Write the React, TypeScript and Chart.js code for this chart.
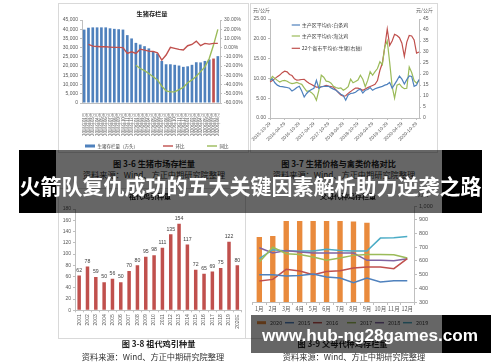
import React, { useEffect, useRef } from "react";
import { Chart, registerables } from "chart.js";

Chart.register(...registerables);

/* ---------- 图3-6 生猪市场存栏量 ---------- */
const inventoryMonths = [
  "2018年01月", "2018年02月", "2018年03月", "2018年04月", "2018年05月", "2018年06月",
  "2018年07月", "2018年08月", "2018年09月", "2018年10月", "2018年11月", "2018年12月",
  "2019年01月", "2019年02月", "2019年03月", "2019年04月", "2019年05月", "2019年06月",
  "2019年07月", "2019年08月", "2019年09月", "2019年10月", "2019年11月", "2019年12月",
  "2020年01月", "2020年02月", "2020年03月", "2020年04月", "2020年05月", "2020年06月",
  "2020年07月", "2020年08月",
];
const hogInventory = [
  39800, 40800, 41000, 41000, 41000, 41000, 40500, 40200, 40000, 39800, 36800, 35000,
  32600, 31700, 30800, 29600, 28000, 26800, 22800, 21000, 21000, 20700, 20300, 19600,
  19900, 20700, 22100, 22000, 22800, 23600, 24100, 25400,
];
const hogInventoryMoM = [
  null, 3.5, 1.7, 1.3, 1.0, 1.0, 0.6, 0.3, 0.3, 0.0, -6.3, -4.5,
  -6.3, -1.6, -2.6, -3.7, -4.1, -5.5, -13.5, -8.0, 0.3, -0.8, -1.9, -2.6,
  2.1, 3.5, 7.1, 2.1, 4.6, 3.9, 4.6, 4.6,
];
const hogInventoryYoY = [
  null, null, null, null, null, null, null, null, null, null, null, null,
  -19, -22.6, -25, -28, -31.6, -35, -41.7, -46.8, -47.9, -47.9, -45.4, -43.2,
  -38, -35, -31, -26, -20.8, -11.7, 2.8, 19.8,
];
const highlightedMonth = "2020年07月";
const inventoryTicksLeft = { min: 0, max: 45000, step: 5000 };
const inventoryTicksRight = { min: -60, max: 30, step: 10 };

/* ---------- 图3-7 生猪价格与禽类价格对比 ---------- */
const priceDates = [
  "2015-10-29", "2015-11-29", "2015-12-29",
  "2016-01-29", "2016-02-29", "2016-03-29", "2016-04-29", "2016-05-29", "2016-06-29",
  "2016-07-29", "2016-08-29", "2016-09-29", "2016-10-29", "2016-11-29", "2016-12-29",
  "2017-01-29", "2017-02-29", "2017-03-29", "2017-04-29", "2017-05-29", "2017-06-29",
  "2017-07-29", "2017-08-29", "2017-09-29", "2017-10-29", "2017-11-29", "2017-12-29",
  "2018-01-29", "2018-02-29", "2018-03-29", "2018-04-29", "2018-05-29", "2018-06-29",
  "2018-07-29", "2018-08-29", "2018-09-29", "2018-10-29", "2018-11-29", "2018-12-29",
  "2019-01-29", "2019-02-29", "2019-03-29", "2019-04-29", "2019-05-29", "2019-06-29",
  "2019-07-29", "2019-08-29", "2019-09-29", "2019-10-29", "2019-11-29", "2019-12-29",
  "2020-01-29", "2020-02-29", "2020-03-29", "2020-04-29", "2020-05-29", "2020-06-29",
  "2020-07-29", "2020-08-29", "2020-09-29", "2020-10-29", "2020-11-29",
];
const broilerPrice = [
  9.5, 9.9, 8.9, 8.3, 8.0, 7.9, 7.8, 7.7, 7.5, 6.8,
  7.2, 7.7, 8.0, 6.8, 5.3, 6.2, 6.8, 7.2, 7.5, 9.5,
  7.5, 7.9, 8.0, 8.0, 8.0, 7.6, 7.3, 7.0, 6.5, 6.0,
  5.7, 4.5, 5.8, 6.2, 6.3, 6.5, 7.0, 7.3, 6.3, 7.0,
  7.2, 7.7, 7.0, 7.4, 7.6, 7.8, 8.0, 8.3, 8.5, 9.0,
  7.5, 8.5, 9.5, 10.6, 9.8, 8.6, 9.7, 10.6, 10.5, 8.0,
  8.3, 9.7,
];
const henPrice = [
  9.5, 10.5, 10.0, 9.5, 9.1, 9.4, 9.5, 9.3, 8.9, 8.7,
  8.8, 9.0, 8.7, 8.5, 7.6, 6.8, 6.8, 6.4, 5.8, 4.5,
  7.0, 10.8, 10.3, 9.3, 9.2, 8.8, 8.0, 7.7, 7.5, 7.6,
  7.0, 7.4, 7.9, 9.8, 8.9, 9.2, 9.6, 10.8, 9.8, 7.9,
  9.5, 11.7, 10.8, 11.7, 12.5, 14.2, 13.5, 18.0, 19.5, 14.0,
  8.0, 5.0, 8.3, 8.6, 7.8, 7.4, 7.5, 12.9, 11.5, 9.4,
  8.8, 9.5,
];
const hogPrice = [
  16.4, 17.0, 17.9, 18.8, 19.5, 20.6, 21.3, 21.0, 19.8, 19.3,
  17.8, 17.2, 17.3, 17.5, 17.6, 16.6, 15.8, 15.2, 14.6, 14.0,
  14.0, 14.2, 14.4, 14.8, 14.5, 14.3, 14.0, 12.8, 11.6, 10.5,
  9.9, 10.1, 11.2, 12.0, 12.9, 13.6, 13.6, 13.2, 12.6, 13.2,
  13.8, 14.3, 14.8, 15.3, 17.0, 21.7, 25.0, 32.4, 40.5, 33.0,
  35.0, 38.0, 37.5, 36.5, 34.0, 28.0, 34.5, 37.5, 37.3, 35.5,
  29.5, 30.0,
];
const priceTickEvery = 6;

/* ---------- 图3-8 祖代鸡引种量 ---------- */
const gpYears = [
  "2001", "2002", "2003", "2004", "2005", "2006", "2007", "2008", "2009", "2010",
  "2011", "2012", "2013", "2014", "2015", "2016", "2017", "2018", "2019", "2020E",
];
const gpImports = [62, 78, 59, 50, 56, 50, 70, 80, 95, 98, 111, 135, 154, 117, 72, 65, 69, 75, 122, 80];

/* ---------- 图3-9 父母代种鸡存栏量 ---------- */
const psMonths = ["1月", "2月", "3月", "4月", "5月", "6月", "7月", "8月", "9月", "10月", "11月", "12月"];
const ps2020 = [774, 781, 890, 890, 890, 890, 890, 887, 878];
const ps2015 = [499, 499, 489, 494, 504, 482, 475, 441, 475, 446, 455, 455];
const ps2016 = [453, 465, 538, 526, 499, 523, 528, 548, 555, 555, 543, 616];
const ps2017 = [591, 700, 652, 647, 628, 604, 621, 640, 647, 647, 645, 621];
const ps2018 = [696, 657, 676, 664, 657, 657, 657, 657, 604, 604, 601, 616];
const ps2019 = [616, 681, 672, 672, 672, 684, 676, 672, 672, 766, 769, 778];

/* ---------- styles ---------- */
const CJK = "'Noto Sans CJK SC', 'Liberation Sans', sans-serif";
const SANS = "'Liberation Sans', 'Noto Sans CJK SC', sans-serif";
const TICK = "#595959";
const AXIS = "#bfbfbf";
const BLUE = "#4F81BD";
const RED = "#C0504D";
const GREEN = "#9BBB59";
const PURPLE = "#8064A2";
const TEAL = "#4BACC6";
const ORANGE = "#E98A3C";

type TextItem = { text: string; x: number; y: number; size: number; bold?: boolean; align?: CanvasTextAlign; color?: string };

const textsPlugin = (items: TextItem[]) => ({
  id: "chartTexts",
  afterDraw(chart: any) {
    const ctx = chart.ctx;
    ctx.save();
    ctx.textBaseline = "middle";
    for (const it of items) {
      ctx.font = `${it.bold ? "bold " : ""}${it.size}px ${CJK}`;
      ctx.fillStyle = it.color || "#404040";
      ctx.textAlign = it.align || "left";
      ctx.fillText(it.text, it.x, it.y);
    }
    ctx.restore();
  },
});

const legendPlugin = (cfg: { xs: number[]; y: number; size: number; swatch: number; gap: number; lineWidth: number; ys?: number[] }) => ({
  id: "manualLegend",
  afterDraw(chart: any) {
    const ctx = chart.ctx;
    ctx.save();
    ctx.textBaseline = "middle";
    ctx.textAlign = "left";
    ctx.font = `${cfg.size}px ${CJK}`;
    chart.data.datasets.forEach((ds: any, i: number) => {
      const x = cfg.xs[i];
      const y = cfg.ys ? cfg.ys[i] : cfg.y;
      const type = ds.type || chart.config.type;
      if (type === "bar") {
        const bg = Array.isArray(ds.backgroundColor) ? ds.legendColor : ds.backgroundColor;
        ctx.fillStyle = bg;
        ctx.fillRect(x, y - 1.5, cfg.swatch, 3);
      } else {
        ctx.strokeStyle = ds.borderColor;
        ctx.lineWidth = cfg.lineWidth;
        ctx.beginPath();
        ctx.moveTo(x, y);
        ctx.lineTo(x + cfg.swatch, y);
        ctx.stroke();
      }
      ctx.fillStyle = "#404040";
      ctx.fillText(ds.label, x + cfg.swatch + cfg.gap, y);
    });
    ctx.restore();
  },
});

const barValuesPlugin = {
  id: "barValues",
  afterDatasetsDraw(chart: any) {
    const ctx = chart.ctx;
    const meta = chart.getDatasetMeta(0);
    const values = chart.data.datasets[0].data;
    ctx.save();
    ctx.font = `5.2px ${SANS}`;
    ctx.fillStyle = "#404040";
    ctx.textAlign = "center";
    ctx.textBaseline = "bottom";
    meta.data.forEach((el: any, i: number) => ctx.fillText(String(values[i]), el.x, el.y - 2.5));
    ctx.restore();
  },
};

const fixW = (w: number) => (s: any) => { s.width = w; };
const fixH = (h: number) => (s: any) => { s.height = h; };

const base = (padding: any) => ({
  responsive: false,
  animation: false,
  devicePixelRatio: 1,
  events: [],
  layout: { padding },
  plugins: { legend: { display: false }, tooltip: { enabled: false }, title: { display: false } },
});

function config1(): any {
  return {
    type: "bar",
    data: {
      labels: inventoryMonths,
      datasets: [
        {
          type: "bar",
          label: "生猪存栏量（万头）",
          data: hogInventory,
          yAxisID: "y",
          backgroundColor: inventoryMonths.map((m) => (m === highlightedMonth ? RED : BLUE)),
          legendColor: BLUE,
          barPercentage: 0.62,
          categoryPercentage: 1,
          order: 1,
        },
        { type: "line", label: "环比", data: hogInventoryMoM, yAxisID: "y1", borderColor: RED, borderWidth: 1.4, pointRadius: 0, order: 0 },
        { type: "line", label: "同比", data: hogInventoryYoY, yAxisID: "y1", borderColor: GREEN, borderWidth: 1.4, pointRadius: 0, order: 0 },
      ],
    },
    options: {
      ...base({ top: 17, left: 0, right: 0, bottom: 0 }),
      scales: {
        x: {
          offset: true,
          grid: { display: false },
          border: { display: true, color: AXIS },
          ticks: { autoSkip: false, minRotation: 90, maxRotation: 90, padding: 2, color: TICK, font: { family: CJK, size: 4.3 } },
          afterFit: fixH(47),
        },
        y: {
          position: "left",
          min: inventoryTicksLeft.min,
          max: inventoryTicksLeft.max,
          ticks: { stepSize: inventoryTicksLeft.step, color: TICK, padding: 2, font: { family: SANS, size: 5 } },
          grid: { drawOnChartArea: false, tickLength: 2, color: AXIS },
          border: { display: true, color: AXIS },
          afterFit: fixW(24),
        },
        y1: {
          position: "right",
          min: inventoryTicksRight.min,
          max: inventoryTicksRight.max,
          ticks: { stepSize: inventoryTicksRight.step, color: TICK, padding: 2, font: { family: SANS, size: 5 }, callback: (v: any) => Number(v).toFixed(2) + "%" },
          grid: { drawOnChartArea: false, tickLength: 2, color: AXIS },
          border: { display: true, color: AXIS },
          afterFit: fixW(30),
        },
      },
    },
    plugins: [
      textsPlugin([{ text: "生猪存栏量", x: 94, y: 10.5, size: 6.2, bold: true, align: "center", color: "#222" }]),
      legendPlugin({ xs: [27, 105, 149], y: 143, size: 4.5, swatch: 10, gap: 2.5, lineWidth: 1.4 }),
    ],
  };
}

function config2(): any {
  const tickColor = (ctx: any) => (ctx.index % priceTickEvery === 0 ? AXIS : "rgba(0,0,0,0)");
  return {
    type: "line",
    data: {
      labels: priceDates,
      datasets: [
        { label: "主产区平均价:白条鸡", data: broilerPrice, yAxisID: "y", borderColor: BLUE, borderWidth: 1.2, pointRadius: 0 },
        { label: "主产区平均价:淘汰鸡", data: henPrice, yAxisID: "y", borderColor: GREEN, borderWidth: 1.2, pointRadius: 0 },
        { label: "22个省市平均价:生猪(右轴)", data: hogPrice, yAxisID: "y1", borderColor: RED, borderWidth: 1.2, pointRadius: 0 },
      ],
    },
    options: {
      ...base({ top: 16, left: 0, right: 0, bottom: 0 }),
      scales: {
        x: {
          grid: { drawOnChartArea: false, tickLength: 2, color: tickColor },
          border: { display: true, color: AXIS },
          ticks: {
            autoSkip: false,
            minRotation: 45,
            maxRotation: 45,
            padding: 1,
            color: TICK,
            font: { family: SANS, size: 4.8 },
            callback: (_v: any, i: number) => (i % priceTickEvery === 0 ? priceDates[i] : ""),
          },
          afterFit: fixH(32),
        },
        y: {
          position: "left",
          min: 0,
          max: 25,
          ticks: { stepSize: 5, color: TICK, padding: 2, font: { family: SANS, size: 5 }, callback: (v: any) => Number(v).toFixed(2) },
          grid: { drawOnChartArea: false, tickLength: 2, color: AXIS },
          border: { display: true, color: AXIS },
          afterFit: fixW(20),
        },
        y1: {
          position: "right",
          min: 0,
          max: 45,
          ticks: { stepSize: 5, color: TICK, padding: 2, font: { family: SANS, size: 5 } },
          grid: { drawOnChartArea: false, tickLength: 2, color: AXIS },
          border: { display: true, color: AXIS },
          afterFit: fixW(19),
        },
      },
    },
    plugins: [
      textsPlugin([
        { text: "元/公斤", x: 3, y: 7, size: 5, color: TICK },
        { text: "元/公斤", x: 166, y: 7, size: 5, color: TICK },
      ]),
      legendPlugin({ xs: [41.7, 41.7, 41.7], ys: [22, 33, 45.3], y: 0, size: 5, swatch: 8.3, gap: 1.8, lineWidth: 1.2 }),
    ],
  };
}

function config3(): any {
  return {
    type: "bar",
    data: {
      labels: gpYears,
      datasets: [{ label: "祖代鸡引种量", data: gpImports, backgroundColor: RED, barPercentage: 0.42, categoryPercentage: 1 }],
    },
    options: {
      ...base({ top: 21, left: 0, right: 4.5, bottom: 0 }),
      scales: {
        x: {
          grid: { drawOnChartArea: false, tickLength: 2, color: AXIS },
          border: { display: true, color: AXIS },
          ticks: { autoSkip: false, minRotation: 90, maxRotation: 90, padding: 2, color: TICK, font: { family: SANS, size: 5 } },
          afterFit: fixH(28.7),
        },
        y: {
          min: 0,
          max: 180,
          ticks: { stepSize: 20, color: TICK, padding: 2, font: { family: SANS, size: 5 } },
          grid: { drawOnChartArea: false, tickLength: 2, color: AXIS },
          border: { display: true, color: AXIS },
          afterFit: fixW(17),
        },
      },
    },
    plugins: [
      barValuesPlugin,
      textsPlugin([{ text: "祖代鸡引种量", x: 92, y: 8.5, size: 7, bold: true, align: "center", color: "#222" }]),
    ],
  };
}

function config4(): any {
  const line = (label: string, data: number[], color: string) => ({
    type: "line",
    label,
    data,
    borderColor: color,
    borderWidth: 1.5,
    pointRadius: 0,
    order: 0,
  });
  return {
    type: "bar",
    data: {
      labels: psMonths,
      datasets: [
        { type: "bar", label: "2020", data: ps2020, backgroundColor: ORANGE, barPercentage: 0.4, categoryPercentage: 1, order: 1 },
        line("2015", ps2015, BLUE),
        line("2016", ps2016, RED),
        line("2017", ps2017, GREEN),
        line("2018", ps2018, PURPLE),
        line("2019", ps2019, TEAL),
      ],
    },
    options: {
      ...base({ top: 18, left: 2.6, right: 0, bottom: 0 }),
      scales: {
        x: {
          grid: { drawOnChartArea: false, tickLength: 3, color: AXIS },
          border: { display: true, color: AXIS },
          ticks: { autoSkip: false, maxRotation: 0, padding: 1, color: TICK, font: { family: CJK, size: 5.5 } },
          afterFit: fixH(26),
        },
        y: {
          position: "right",
          min: 300,
          max: 1000,
          ticks: { stepSize: 100, color: TICK, padding: 2, font: { family: SANS, size: 5.5 } },
          grid: { drawOnChartArea: false, tickLength: 3, color: AXIS },
          border: { display: true, color: AXIS },
          afterFit: fixW(26),
        },
      },
    },
    plugins: [
      textsPlugin([
        { text: "父母代种鸡存栏量", x: 98, y: 8.5, size: 7, bold: true, align: "center", color: "#222" },
        { text: "万套", x: 168, y: 6, size: 5.5, color: TICK },
      ]),
      legendPlugin({ xs: [7, 35, 63, 97, 125, 153], y: 134.7, size: 5.5, swatch: 9, gap: 4, lineWidth: 1.5 }),
    ],
  };
}

function Txt(props: { x: number; y: number; size: number; bold?: boolean; color?: string; align?: "left" | "center"; family?: string; z?: number; children: any }) {
  const { x, y, size, bold, color = "#333", align = "center", family = CJK, z = 2 } = props;
  return (
    <div
      style={{
        position: "absolute",
        left: x,
        top: y,
        transform: `translate(${align === "center" ? "-50%" : "0"}, -50%)`,
        fontSize: size,
        fontWeight: bold ? 700 : 400,
        color,
        fontFamily: family,
        lineHeight: 1,
        whiteSpace: "nowrap",
        zIndex: z,
      }}
    >
      {props.children}
    </div>
  );
}

const box = (left: number, top: number, width: number, height: number, extra: any = {}) => ({
  position: "absolute" as const,
  left,
  top,
  width,
  height,
  boxSizing: "border-box" as const,
  ...extra,
});

export default function App() {
  const r1 = useRef<HTMLCanvasElement>(null);
  const r2 = useRef<HTMLCanvasElement>(null);
  const r3 = useRef<HTMLCanvasElement>(null);
  const r4 = useRef<HTMLCanvasElement>(null);

  useEffect(() => {
    const charts = [
      new Chart(r1.current as HTMLCanvasElement, config1()),
      new Chart(r2.current as HTMLCanvasElement, config2()),
      new Chart(r3.current as HTMLCanvasElement, config3()),
      new Chart(r4.current as HTMLCanvasElement, config4()),
    ];
    return () => charts.forEach((c) => c.destroy());
  }, []);

  const source = "资料来源：Wind、方正中期研究院整理";

  return (
    <div style={{ position: "fixed", left: 0, top: 0, width: 500, height: 362, background: "#fff", overflow: "hidden" }}>
      {/* frames */}
      <div style={box(58, 3, 191, 150, { border: "1px solid #d9d9d9" })} />
      <div style={box(250, 3, 188, 150, { border: "1px solid #d9d9d9" })} />
      <div style={box(58, 188, 188, 151, { border: "1px solid #d9d9d9" })} />
      <div style={box(246, 338, 50, 1, { background: "#d9d9d9" })} />

      <canvas ref={r1} width={192} height={147} style={{ position: "absolute", left: 58, top: 3 }} />
      <canvas ref={r2} width={188} height={147} style={{ position: "absolute", left: 250, top: 3 }} />
      <canvas ref={r3} width={188} height={151} style={{ position: "absolute", left: 58, top: 188 }} />
      <canvas ref={r4} width={190} height={140} style={{ position: "absolute", left: 250, top: 188 }} />

      {/* captions */}
      <Txt x={154} y={163} size={8.2} bold color="#222">图 3-6 生猪市场存栏量</Txt>
      <Txt x={154} y={174} size={8.2} color="#333">{source}</Txt>
      <Txt x={338.5} y={163} size={8.2} bold color="#222">图 3-7 生猪价格与禽类价格对比</Txt>
      <Txt x={344} y={174} size={8.2} color="#333">{source}</Txt>
      <Txt x={158.5} y={343} size={8.2} bold color="#222">图 3-8 祖代鸡引种量</Txt>
      <Txt x={153} y={356} size={8.2} color="#333">{source}</Txt>
      <Txt x={342.5} y={343} size={8.2} bold color="#222">图 3-9 父母代种鸡存栏量</Txt>
      <Txt x={354} y={356} size={8.2} color="#333">{source}</Txt>

      {/* headline band */}
      <div style={box(19, 150, 37, 63, { background: "#000", zIndex: 10 })} />
      <div style={box(56, 150, 386, 63, { background: "rgba(0,0,0,0.6)", zIndex: 10 })} />
      <div style={box(442, 150, 40, 63, { background: "#000", zIndex: 10 })} />
      <Txt x={250.5} y={185} size={21} bold color="#fff" z={11}>火箭队复仇成功的五大关键因素解析助力逆袭之路</Txt>

      {/* watermark band */}
      <div style={box(251, 315, 191, 38, { background: "rgba(0,0,0,0.6)", zIndex: 10 })} />
      <div style={box(442, 315, 49, 38, { background: "#000", zIndex: 10 })} />
      <Txt x={262} y={336} size={17.2} bold color="#fff" align="left" family="'Liberation Sans', sans-serif" z={11}>www.hub-ng28games.com</Txt>
    </div>
  );
}
